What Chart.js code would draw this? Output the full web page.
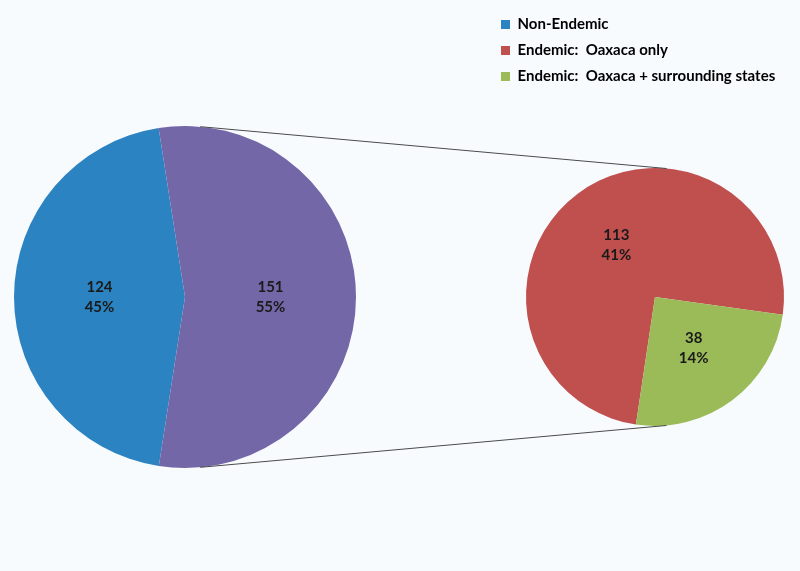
<!DOCTYPE html>
<html>
<head>
<meta charset="utf-8">
<script src="https://cdn.jsdelivr.net/npm/chart.js@4"></script>
<style>
  html, body { margin: 0; padding: 0; background: #f8fbfe; }
  #wrap { position: relative; width: 800px; height: 571px; }
  .box { position: absolute; top: 0; height: 571px; }
</style>
</head>
<body>
<div id="wrap">
  <div class="box" style="left:0;width:400px"><canvas id="mainPie"></canvas></div>
  <div class="box" style="left:400px;width:400px"><canvas id="subPie"></canvas></div>
  <div class="box" style="left:0;width:800px;pointer-events:none"><canvas id="overlay"></canvas></div>
</div>
<script>
// data
var mainLabels = ["Non-Endemic", "Endemic"];
var mainValues = [124, 151];
var subLabels = ["Endemic:  Oaxaca only", "Endemic:  Oaxaca + surrounding states"];
var subValues = [113, 38];
var legendLabels = ["Non-Endemic", "Endemic:  Oaxaca only", "Endemic:  Oaxaca + surrounding states"];

var total = mainValues[0] + mainValues[1];
var mainColors = ["#2b83c1", "#7467a7"];
var subColors = ["#c0504e", "#9bbb59"];
var legendColors = ["#2b83c1", "#c0504e", "#9bbb59"];
var FONT = "Lato, 'Open Sans', sans-serif";

// value + percent labels in each slice
var sliceLabels = {
  id: "sliceLabels",
  afterDatasetsDraw: function(chart) {
    var ctx = chart.ctx;
    var meta = chart.getDatasetMeta(0);
    var vals = chart.data.datasets[0].data;
    ctx.save();
    ctx.font = "bold 15px " + FONT;
    ctx.fillStyle = "#1a1a1a";
    ctx.textAlign = "center";
    ctx.textBaseline = "middle";
    meta.data.forEach(function(arc, i) {
      var p = arc.tooltipPosition();
      ctx.fillText(vals[i], p.x, p.y - 10);
      ctx.fillText(Math.round(vals[i] / total * 100) + "%", p.x, p.y + 10);
    });
    ctx.restore();
  }
};

var common = {
  responsive: true,
  maintainAspectRatio: false,
  animation: false,
  plugins: { legend: { display: false }, tooltip: { enabled: false } }
};

var mainChart = new Chart(document.getElementById("mainPie"), {
  type: "pie",
  data: {
    labels: mainLabels,
    datasets: [{ data: mainValues, backgroundColor: mainColors, borderWidth: 0 }]
  },
  options: Object.assign({}, common, {
    rotation: 188.8,
    layout: { padding: { left: 14, right: 44, top: 126, bottom: 103 } }
  }),
  plugins: [sliceLabels]
});

var subChart = new Chart(document.getElementById("subPie"), {
  type: "pie",
  data: {
    labels: subLabels,
    datasets: [{ data: subValues, backgroundColor: subColors, borderWidth: 0 }]
  },
  options: Object.assign({}, common, {
    rotation: 188.5,
    layout: { padding: { left: 126, right: 16, top: 168, bottom: 145 } }
  }),
  plugins: [sliceLabels]
});

// connector lines: outer tangents between the two pies
var connectors = {
  id: "connectors",
  afterDraw: function(chart) {
    var a = mainChart.getDatasetMeta(0).data[0];
    var b = subChart.getDatasetMeta(0).data[0];
    var x1 = a.x, y1 = a.y, r1 = a.outerRadius;
    var x2 = b.x + 400, y2 = b.y, r2 = b.outerRadius;
    var d = Math.hypot(x2 - x1, y2 - y1);
    var base = Math.atan2(y2 - y1, x2 - x1);
    var off = Math.acos((r1 - r2) / d);
    var ctx = chart.ctx;
    ctx.save();
    ctx.strokeStyle = "#4a4a4a";
    ctx.lineWidth = 1;
    [base - off, base + off].forEach(function(t) {
      ctx.beginPath();
      ctx.moveTo(x1 + r1 * Math.cos(t), y1 + r1 * Math.sin(t));
      ctx.lineTo(x2 + r2 * Math.cos(t), y2 + r2 * Math.sin(t));
      ctx.stroke();
    });
    ctx.restore();
  }
};

new Chart(document.getElementById("overlay"), {
  type: "pie",
  data: { labels: legendLabels, datasets: [] },
  options: {
    responsive: true,
    maintainAspectRatio: false,
    animation: false,
    events: [],
    layout: { padding: { left: 490, right: 20, top: 6 } },
    plugins: {
      tooltip: { enabled: false },
      legend: {
        position: "top",
        align: "start",
        labels: {
          boxWidth: 9,
          boxHeight: 9,
          padding: 11,
          color: "#111",
          font: { family: FONT, size: 15, weight: "bold" },
          generateLabels: function() {
            return legendLabels.map(function(t, i) {
              return { text: t, fillStyle: legendColors[i], strokeStyle: legendColors[i], lineWidth: 0, index: i };
            });
          }
        }
      }
    }
  },
  plugins: [connectors]
});
</script>
</body>
</html>
